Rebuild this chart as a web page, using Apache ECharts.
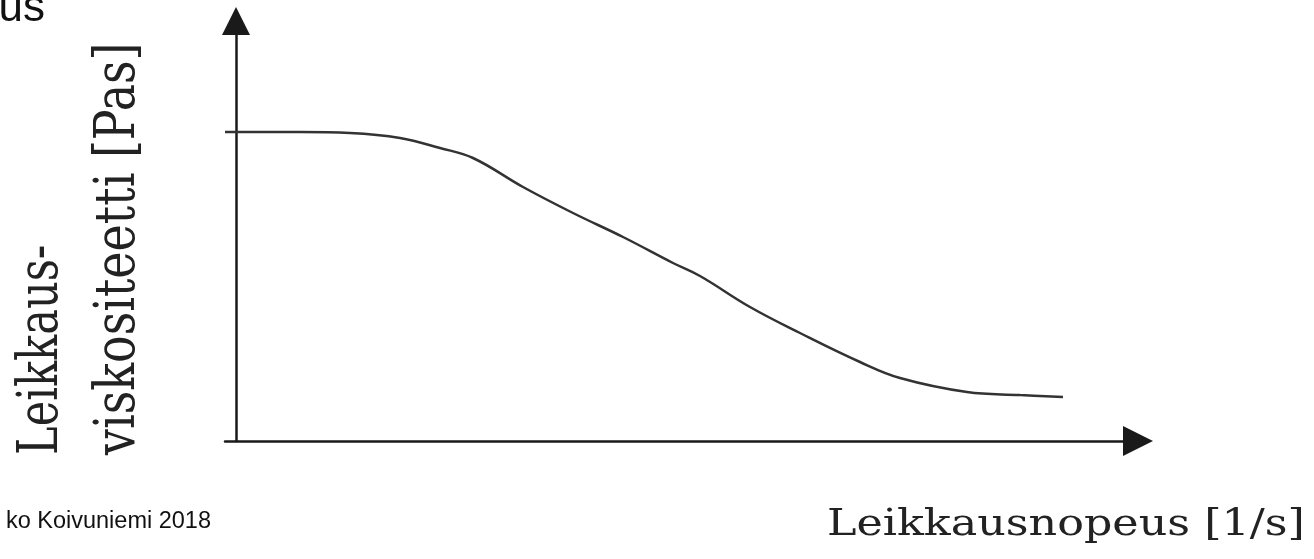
<!DOCTYPE html>
<html>
<head>
<meta charset="utf-8">
<style>
  html, body { margin: 0; padding: 0; background: #ffffff; }
  #chart { width: 1314px; height: 559px; }
</style>
<script src="https://cdn.jsdelivr.net/npm/echarts@6/dist/echarts.min.js"></script>
</head>
<body>
<div id="chart"></div>
<script>
// Shear rate (arbitrary units)
const shearRate = [-11, 64, 114, 164, 204, 237, 287, 337, 387, 437, 464, 514, 564, 624, 664, 731, 784, 827];
// Shear viscosity (arbitrary units)
const viscosity = [309, 309, 308, 303, 293, 283, 254, 228, 204, 178, 165, 134, 108, 79, 63, 49, 46, 44];

const xAxisName = 'Leikkausnopeus [1/s]';
const yAxisNameLines = ['Leikkaus-', 'viskositeetti [Pas]'];
const cornerText = 'us';
const creditText = 'ko Koivuniemi 2018';

const points = shearRate.map((x, i) => [x, viscosity[i]]);

const axisColor = '#1a1a1a';
const serif = "'DejaVu Serif', serif";
const sans = "'Liberation Sans', Arial, sans-serif";

const chart = echarts.init(document.getElementById('chart'), null, { renderer: 'canvas' });

chart.setOption({
  backgroundColor: '#ffffff',
  animation: false,
  grid: { left: 225, right: 176, top: 21, bottom: 118 },
  xAxis: {
    type: 'value', min: -11, max: 902,
    axisLine: {
      show: true, onZero: true,
      symbol: ['none', 'triangle'], symbolSize: [30, 30],
      lineStyle: { color: axisColor, width: 2.5 }
    },
    axisTick: { show: false }, axisLabel: { show: false }, splitLine: { show: false }
  },
  yAxis: {
    type: 'value', min: 0, max: 420,
    axisLine: {
      show: true, onZero: true,
      symbol: ['none', 'triangle'], symbolSize: [28, 28],
      lineStyle: { color: axisColor, width: 2.5 }
    },
    axisTick: { show: false }, axisLabel: { show: false }, splitLine: { show: false }
  },
  series: [{
    type: 'line',
    data: points,
    smooth: 0.4,
    showSymbol: false,
    lineStyle: { color: '#333333', width: 2.5 }
  }],
  graphic: [
    {
      type: 'text', x: 45, y: 9,
      style: { text: cornerText, font: '44px ' + sans, fill: '#111',
        align: 'right', textAlign: 'right', verticalAlign: 'middle', textVerticalAlign: 'middle' }
    },
    {
      type: 'text', x: 211, y: 522,
      style: { text: creditText, font: '23.5px ' + sans, fill: '#111',
        align: 'right', textAlign: 'right', verticalAlign: 'middle', textVerticalAlign: 'middle' }
    },
    {
      type: 'text', x: 827, y: 525, scaleX: 1.2,
      style: { text: xAxisName, font: '37px ' + serif, fill: '#222',
        align: 'left', textAlign: 'left', verticalAlign: 'middle', textVerticalAlign: 'middle' }
    },
    {
      type: 'text', x: 42, y: 455, rotation: Math.PI / 2, scaleX: 0.77,
      style: { text: yAxisNameLines[0], font: '56px ' + serif, fill: '#222',
        align: 'left', textAlign: 'left', verticalAlign: 'middle', textVerticalAlign: 'middle' }
    },
    {
      type: 'text', x: 119, y: 455, rotation: Math.PI / 2, scaleX: 0.82,
      style: { text: yAxisNameLines[1], font: '56px ' + serif, fill: '#222',
        align: 'left', textAlign: 'left', verticalAlign: 'middle', textVerticalAlign: 'middle' }
    }
  ]
});
</script>
</body>
</html>
